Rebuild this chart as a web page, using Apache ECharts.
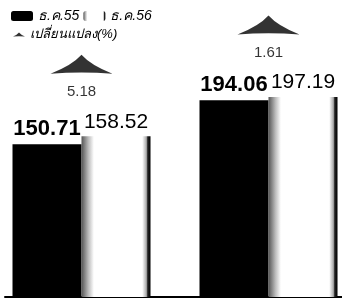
<!DOCTYPE html>
<html>
<head>
<meta charset="utf-8">
<script src="https://cdn.jsdelivr.net/npm/echarts@6/dist/echarts.min.js"></script>
<style>
  html, body { margin: 0; padding: 0; background: #fff; }
  #chart { width: 342px; height: 300px; }
</style>
</head>
<body>
<div id="chart"></div>
<script>
// ข้อมูล
const groups = ['A', 'B'];
const dec55 = [150.71, 194.06];   // ธ.ค.55
const dec56 = [158.52, 197.19];   // ธ.ค.56
const change = [5.18, 1.61];      // เปลี่ยนแปลง(%)

const arrowPath = 'path://M0,20 Q21,11 30,0 Q39,11 60,20 Q30,17 0,20 Z';

const chart = echarts.init(document.getElementById('chart'));

// ลูกศรวางไว้เหนือแท่งที่สูงกว่าในแต่ละกลุ่ม
const arrowData = groups.map((g, i) => ({
  value: Math.max(dec55[i], dec56[i]),
  change: change[i]
}));

const option = {
  animation: false,
  textStyle: { fontFamily: 'Liberation Sans, Arial, sans-serif' },
  legend: [
    {
      data: ['ธ.ค.55', 'ธ.ค.56'],
      left: 6, top: 4,
      itemWidth: 22, itemHeight: 10, itemGap: 4,
      textStyle: { fontSize: 14, fontStyle: 'italic', color: '#000' }
    },
    {
      data: [{ name: 'เปลี่ยนแปลง(%)', icon: arrowPath }],
      left: 8, top: 23,
      itemWidth: 12, itemHeight: 5,
      textStyle: { fontSize: 13, fontStyle: 'italic', color: '#000' }
    }
  ],
  grid: [
    { left: 81.5, right: 73.5, top: 0, bottom: 3 },
    { left: 5, right: 0, top: 0, bottom: 3 }   // เส้นฐาน
  ],
  xAxis: [
    {
      type: 'category',
      data: groups,
      boundaryGap: false,
      axisLine: { show: false },
      axisTick: { show: false },
      axisLabel: { show: false },
      splitLine: { show: false }
    },
    {
      gridIndex: 1,
      type: 'value', min: 0, max: 1,
      axisLine: { show: true, onZero: false, lineStyle: { color: '#000', width: 2 } },
      axisTick: { show: false },
      axisLabel: { show: false },
      splitLine: { show: false }
    }
  ],
  yAxis: [
    { type: 'value', min: 0, max: 293, show: false, splitLine: { show: false } },
    { gridIndex: 1, type: 'value', min: 0, max: 1, show: false, splitLine: { show: false } }
  ],
  series: [
    {
      name: 'ธ.ค.55',
      type: 'bar',
      data: dec55,
      barWidth: 69,
      barGap: '0%',
      itemStyle: { color: '#000' },
      label: {
        show: true, position: 'top', distance: 4,
        fontSize: 22, fontWeight: 'bold', color: '#000',
        formatter: p => p.value.toFixed(2)
      }
    },
    {
      name: 'ธ.ค.56',
      type: 'bar',
      data: dec56,
      barWidth: 69,
      itemStyle: {
        color: new echarts.graphic.LinearGradient(0, 0, 1, 0, [
          { offset: 0, color: '#555' },
          { offset: 0.1, color: '#bbb' },
          { offset: 0.18, color: '#fff' },
          { offset: 0.88, color: '#fff' },
          { offset: 0.94, color: '#aaa' },
          { offset: 0.96, color: '#222' },
          { offset: 1, color: '#000' }
        ])
      },
      label: {
        show: true, position: 'top', distance: 4,
        fontSize: 21, color: '#000',
        formatter: p => p.value.toFixed(2)
      }
    },
    {
      name: 'เปลี่ยนแปลง(%)',
      type: 'scatter',
      data: arrowData,
      symbol: arrowPath,
      symbolSize: [62, 19],
      symbolOffset: [0, -72],
      itemStyle: { color: '#000' },
      label: {
        show: true, position: 'bottom', distance: 11,
        fontSize: 15, color: '#000',
        formatter: p => p.data.change.toFixed(2)
      }
    }
  ]
};

chart.setOption(option);
</script>
</body>
</html>
